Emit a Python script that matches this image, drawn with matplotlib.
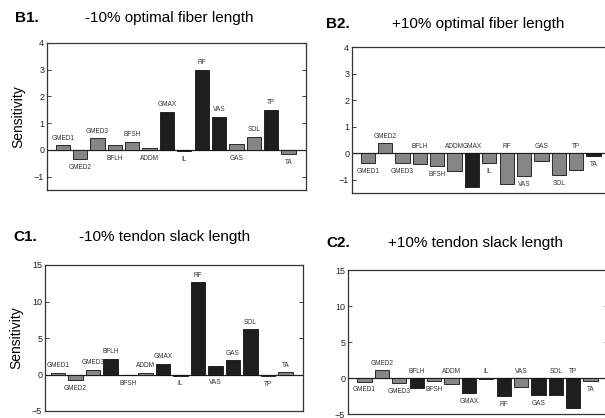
import matplotlib
matplotlib.use("Agg")
import matplotlib.pyplot as plt

plt.rcParams['font.family'] = ['Liberation Sans', 'DejaVu Sans']

muscles = ["GMED1", "GMED2", "GMED3", "BFLH", "BFSH", "ADDM", "GMAX",
           "IL", "RF", "VAS", "GAS", "SOL", "TP", "TA"]

# B1: -10% optimal fiber length
b1_values = [0.18, -0.34, 0.44, 0.18, 0.31, 0.08, 1.42, -0.03, 3.0, 1.25, 0.22, 0.5, 1.5, -0.15]
b1_dark   = [0, 0, 0, 0, 0, 0, 1, 1, 1, 1, 0, 0, 1, 0]
b1_above  = [1, 0, 1, 0, 1, 0, 1, 0, 1, 1, 0, 1, 1, 0]

# B2: +10% optimal fiber length
b2_values = [-0.38, 0.38, -0.38, -0.4, -0.5, -0.68, -1.29, -0.36, -1.15, -0.87, -0.3, -0.84, -0.64, -0.12]
b2_dark   = [0, 0, 0, 0, 0, 0, 1, 0, 0, 0, 0, 0, 0, 1]
b2_above  = [0, 1, 0, 1, 0, 1, 1, 0, 1, 0, 1, 0, 1, 0]

# C1: -10% tendon slack length
c1_values = [0.22, -0.8, 0.64, 2.15, -0.05, 0.22, 1.5, -0.15, 12.65, 1.1, 1.97, 6.2, -0.2, 0.3]
c1_dark   = [0, 0, 0, 1, 1, 0, 1, 1, 1, 1, 1, 1, 0, 0]
c1_above  = [1, 0, 1, 1, 0, 1, 1, 0, 1, 0, 1, 1, 0, 1]

# C2: +10% tendon slack length
c2_values = [-0.5, 1.1, -0.7, -1.4, -0.4, -0.9, -2.1, -0.15, -2.5, -1.3, -2.4, -2.3, -4.1, -0.4]
c2_dark   = [0, 0, 0, 1, 0, 0, 1, 0, 1, 0, 1, 1, 1, 0]
c2_above  = [0, 1, 0, 1, 0, 1, 0, 1, 0, 1, 0, 1, 1, 0]

panels = [
    ("B1.", "-10% optimal fiber length", b1_values, b1_dark, b1_above,
     (47, 306, 43, 190), (-1.5, 4), [-1, 0, 1, 2, 3, 4], (-0.9, 14.0), True, (15, 18), 169),
    ("B2.", "+10% optimal fiber length", b2_values, b2_dark, b2_above,
     (352, 611, 47, 193), (-1.5, 4), [-1, 0, 1, 2, 3, 4], (-0.9, 14.0), False, (326, 24), 478),
    ("C1.", "-10% tendon slack length", c1_values, c1_dark, c1_above,
     (45, 303, 265, 411), (-5, 15), [-5, 0, 5, 10, 15], (-0.75, 14.0), True, (13, 237), 165),
    ("C2.", "+10% tendon slack length", c2_values, c2_dark, c2_above,
     (348, 608, 270, 414), (-5, 15), [-5, 0, 5, 10, 15], (-0.95, 14.0), False, (326, 243), 476),
]

W, H = 605, 418
fig = plt.figure(figsize=(W / 100, H / 100), dpi=100)

GRAY = "#858585"
DARK = "#1e1e1e"

for (tag, title, vals, dark, above, box, ylim, yticks, xlim, ylab, tagpos, tcx) in panels:
    l, r, t, b = box
    ax = fig.add_axes([l / W, 1 - b / H, (r - l) / W, (b - t) / H])
    x = list(range(len(muscles)))
    colors = [DARK if d else GRAY for d in dark]
    ax.bar(x, vals, width=0.82, color=colors, edgecolor="#111111", linewidth=0.6, zorder=2)
    ax.axhline(0, color="#222222", linewidth=0.9, zorder=1)
    for xi, v, name, a in zip(x, vals, muscles, above):
        if a:
            ax.annotate(name, (xi, max(v, 0)), xytext=(0, 2.5), textcoords="offset points",
                        ha="center", va="bottom", fontsize=4.7, color="#333333")
        else:
            ax.annotate(name, (xi, min(v, 0)), xytext=(0, -3.5), textcoords="offset points",
                        ha="center", va="top", fontsize=4.7, color="#333333")
    ax.set_xlim(*xlim)
    ax.set_ylim(*ylim)
    ax.set_yticks(yticks)
    ax.set_xticks([])
    ax.tick_params(axis="y", direction="in", length=3, width=0.6, labelsize=6.5,
                   left=True, right=True, pad=2, colors="#222222")
    for s in ax.spines.values():
        s.set_linewidth(0.9)
        s.set_color("#333333")
    if ylab:
        ax.set_ylabel("Sensitivity", fontsize=10, labelpad=6)
    fig.text(tagpos[0] / W, 1 - tagpos[1] / H, tag, fontsize=11, fontweight="bold",
             ha="left", va="center")
    fig.text(tcx / W, 1 - tagpos[1] / H, title, fontsize=11, ha="center", va="center")

fig.savefig("out.png", dpi=100)
